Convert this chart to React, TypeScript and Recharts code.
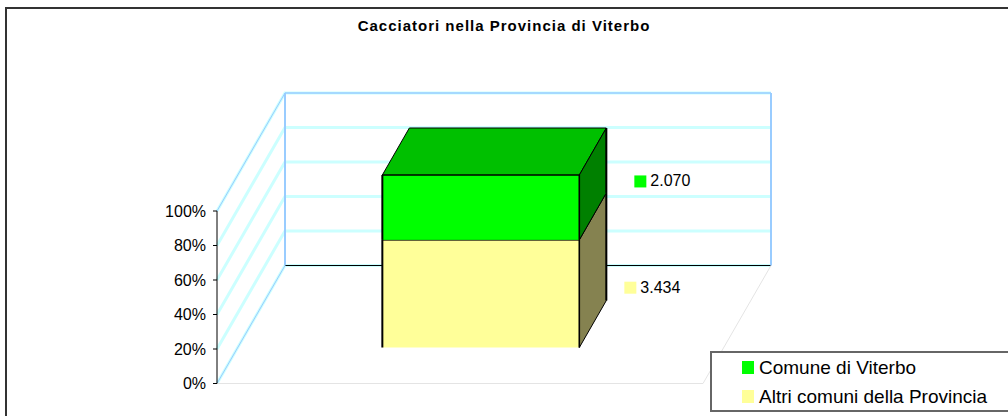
import { BarChart, Bar, XAxis, YAxis, CartesianGrid, Legend, LabelList } from "recharts"

const categories = ["Cacciatori"]
const altriComuni = [3434]
const comuneViterbo = [2070]
const percentTicks = [0, 0.2, 0.4, 0.6, 0.8, 1]

const data = categories.map((name, i) => ({
  name,
  altri: altriComuni[i],
  comune: comuneViterbo[i],
}))

const FONT = '"Liberation Sans", Arial, sans-serif'
const PLOT_HEIGHT = 172.5
// depth of the fake 3d floor, and how far into it the bar sits
const WALL_DX = 68
const WALL_DY = -118
const BAR_DX = 21
const BAR_DY = -36
const BAR_DEPTH_X = 27
const BAR_DEPTH_Y = -47

function WallRow(props: any) {
  const { x1, x2, y1, index } = props
  const bx = x1 + WALL_DX
  const by = y1 + WALL_DY
  const rx = x2 + WALL_DX
  const isFloor = by > 260
  const isTop = by < 100
  return (
    <g key={`wall-${index}`}>
      <path d={`M${x1} ${y1}L${bx} ${by}L${rx} ${by}`} fill="none" stroke="#ccffff" strokeWidth={3} />
      {(isFloor || isTop) && (
        <line x1={x1} y1={y1} x2={bx} y2={by} stroke="#99ccff" strokeWidth={1} />
      )}
      {isTop && (
        <>
          <line x1={bx} y1={by} x2={rx} y2={by} stroke="#99ccff" strokeWidth={1.5} />
          <line x1={bx} y1={by} x2={bx} y2={by + PLOT_HEIGHT} stroke="#99ccff" strokeWidth={2} />
          <line x1={rx} y1={by} x2={rx} y2={by + PLOT_HEIGHT} stroke="#99ccff" strokeWidth={2} />
        </>
      )}
      {isFloor && (
        <>
          <line x1={bx} y1={by} x2={rx} y2={by} stroke="#000" strokeWidth={1} />
          <line x1={x1} y1={y1} x2={x2} y2={y1} stroke="#e4e4e4" strokeWidth={1} />
          <line x1={x2} y1={y1} x2={rx} y2={by} stroke="#e4e4e4" strokeWidth={1} />
        </>
      )}
    </g>
  )
}

function Block(props: any) {
  const { x, y, width, height, front, top, side } = props
  const l = x + BAR_DX
  const r = l + width
  const t = y + BAR_DY
  const b = t + height
  const dx = BAR_DEPTH_X
  const dy = BAR_DEPTH_Y
  return (
    <g>
      <rect x={l} y={t} width={width} height={height} fill={front} />
      <path d={`M${l} ${t}L${r} ${t}L${r + dx} ${t + dy}L${l + dx} ${t + dy}Z`} fill={top} stroke="#000" strokeWidth={1} />
      <path d={`M${r} ${t}L${r + dx} ${t + dy}L${r + dx} ${b + dy}L${r} ${b}Z`} fill={side} stroke="#000" strokeWidth={1} />
      <line x1={l} y1={t} x2={r} y2={t} stroke="#000" strokeWidth={1} />
      <line x1={l} y1={t} x2={l} y2={b} stroke="#000" strokeWidth={2} />
      <line x1={r} y1={t} x2={r} y2={b} stroke="#000" strokeWidth={1.5} />
      <line x1={r + dx} y1={t + dy} x2={r + dx} y2={b + dy} stroke="#000" strokeWidth={2} />
    </g>
  )
}

function ValueLabel(props: any) {
  const { x, y, width, height, value, colour, shiftX, shiftY } = props
  const lx = x + width + shiftX
  const ly = y + height / 2 + shiftY
  return (
    <g>
      <rect x={lx} y={ly - 6} width={12} height={12} fill={colour} />
      <text x={lx + 16} y={ly + 5} fontSize={16} fontFamily={FONT} fill="#000">
        {value.toLocaleString("de-DE")}
      </text>
    </g>
  )
}

function LegendBox(props: any) {
  const items = [...(props.payload || [])].reverse()
  return (
    <div
      style={{
        width: 310,
        height: 61,
        boxSizing: "border-box",
        border: "2px solid #666",
        background: "#fff",
        fontFamily: FONT,
        fontSize: 19,
      }}
    >
      {items.map((item: any) => (
        <div key={item.value} style={{ height: 29, display: "flex", alignItems: "center", marginLeft: 30 }}>
          <span style={{ width: 12, height: 13, background: item.color, marginRight: 5 }} />
          {item.value}
        </div>
      ))}
    </div>
  )
}

export default function App() {
  return (
    <div style={{ position: "absolute", left: 0, top: 0, width: 1008, height: 416, overflow: "hidden", background: "#fff" }}>
      <div
        style={{
          position: "absolute",
          left: 5,
          top: 7,
          width: 1100,
          height: 500,
          boxSizing: "border-box",
          border: "2px solid #333",
        }}
      />
      <div
        style={{
          position: "absolute",
          left: 0,
          top: 17,
          width: 1008,
          textAlign: "center",
          fontFamily: FONT,
          fontWeight: "bold",
          fontSize: 15,
          letterSpacing: 1,
        }}
      >
        Cacciatori nella Provincia di Viterbo
      </div>
      <BarChart
        width={1008}
        height={416}
        data={data}
        stackOffset="expand"
        barCategoryGap="29.7%"
        margin={{ top: 211, right: 305, bottom: 32.5, left: 157 }}
        style={{ position: "absolute", left: 0, top: 0 }}
      >
        <CartesianGrid vertical={false} horizontal={(p: any) => <WallRow {...p} />} />
        <XAxis dataKey="name" hide />
        <YAxis
          width={60}
          ticks={percentTicks}
          domain={[0, 1]}
          interval={0}
          tickFormatter={(v: number) => `${Math.round(v * 100)}%`}
          tick={{ fill: "#000", fontSize: 16, fontFamily: FONT }}
          tickLine={{ stroke: "#000" }}
          tickSize={4}
          tickMargin={7}
          axisLine={{ stroke: "#000" }}
        />
        <Bar
          dataKey="altri"
          name="Altri comuni della Provincia"
          stackId="a"
          fill="#ffff99"
          isAnimationActive={false}
          shape={(p: any) => <Block {...p} front="#ffff99" top="#c0c073" side="#858250" />}
        >
          <LabelList dataKey="altri" content={(p: any) => <ValueLabel {...p} colour="#ffff99" shiftX={66} shiftY={-42} />} />
        </Bar>
        <Bar
          dataKey="comune"
          name="Comune di Viterbo"
          stackId="a"
          fill="#00ff00"
          isAnimationActive={false}
          shape={(p: any) => <Block {...p} front="#00ff00" top="#00c000" side="#008000" />}
        >
          <LabelList dataKey="comune" content={(p: any) => <ValueLabel {...p} colour="#00ff00" shiftX={76} shiftY={-62} />} />
        </Bar>
        <Legend
          layout="vertical"
          align="center"
          verticalAlign="middle"
          content={(p: any) => <LegendBox {...p} />}
          wrapperStyle={{ left: 710, top: 351, width: 310 }}
        />
      </BarChart>
    </div>
  )
}
